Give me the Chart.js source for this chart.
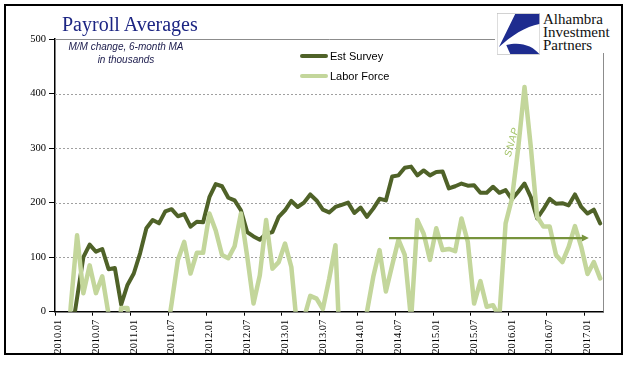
<!DOCTYPE html>
<html><head><meta charset="utf-8">
<script src="https://cdn.jsdelivr.net/npm/chart.js@4.4.1/dist/chart.umd.min.js"></script>
<style>
html,body{margin:0;padding:0;background:#fff;}
#wrap{position:relative;width:641px;height:375px;overflow:hidden;background:#fff;}
#c{position:absolute;left:0;top:0;}
.t{position:absolute;white-space:nowrap;}
#title{left:62px;top:14px;font:20px "Liberation Serif",serif;line-height:20px;color:#1C2583;}
.sub{left:26px;width:200px;text-align:center;font:italic 10px "Liberation Sans",Arial,sans-serif;line-height:14px;color:#202050;}
.leg{font:11px "Liberation Sans",Arial,sans-serif;line-height:14px;color:#000;}
.legline{position:absolute;height:4px;border-radius:2px;width:28px;}
#logo{position:absolute;left:495px;top:7px;width:124px;height:46px;background:#fff;}
#logotext{position:absolute;left:48px;top:6.4px;font:15px "Liberation Serif",serif;line-height:13px;color:#111;}
#icon{position:absolute;left:2px;top:6px;}
</style></head><body>
<div id="wrap">
<canvas id="c" width="641" height="375"></canvas>
<div id="title" class="t">Payroll Averages</div>
<div class="t sub" style="top:40px">M/M change, 6-month MA</div>
<div class="t sub" style="top:53px">in thousands</div>
<div class="legline" style="left:300px;top:54px;background:#4F6228"></div>
<div class="t leg" style="left:330px;top:49px">Est Survey</div>
<div class="legline" style="left:300px;top:74px;background:#C3D69B"></div>
<div class="t leg" style="left:330px;top:69px">Labor Force</div>
<div id="logo">
<svg id="icon" width="43" height="42" viewBox="0 0 130 125">
<rect x="0.5" y="0.5" width="129" height="124" fill="#fff" stroke="#bbb" stroke-width="2"/>
<path d="M55,2 L128,2 L128,32 C88,38 40,70 6,102 Z" fill="#1E2C8F"/>
<path d="M28,96 C70,84 108,98 128,123 L40,123 Z" fill="#1E2C8F"/>
</svg>
<div id="logotext">Alhambra<br>Investment<br>Partners</div>
</div>
</div>
<script>
const months = ['2010.01','2010.02','2010.03','2010.04','2010.05','2010.06','2010.07','2010.08','2010.09','2010.10','2010.11','2010.12',
'2011.01','2011.02','2011.03','2011.04','2011.05','2011.06','2011.07','2011.08','2011.09','2011.10','2011.11','2011.12',
'2012.01','2012.02','2012.03','2012.04','2012.05','2012.06','2012.07','2012.08','2012.09','2012.10','2012.11','2012.12',
'2013.01','2013.02','2013.03','2013.04','2013.05','2013.06','2013.07','2013.08','2013.09','2013.10','2013.11','2013.12',
'2014.01','2014.02','2014.03','2014.04','2014.05','2014.06','2014.07','2014.08','2014.09','2014.10','2014.11','2014.12',
'2015.01','2015.02','2015.03','2015.04','2015.05','2015.06','2015.07','2015.08','2015.09','2015.10','2015.11','2015.12',
'2016.01','2016.02','2016.03','2016.04','2016.05','2016.06','2016.07','2016.08','2016.09','2016.10','2016.11','2016.12',
'2017.01','2017.02','2017.03'];
const estSurvey = [-100,-70,-50,25,100,123,110,115,78,80,13,49,
70,107,153,168,162,184,188,175,179,156,165,164,
210,234,230,209,204,186,146,138,132,143,146,174,
186,203,192,200,215,204,187,182,192,196,200,181,
191,174,189,207,204,248,250,264,266,250,259,250,
256,257,226,230,235,231,232,218,218,229,218,223,
206,220,235,210,171,188,207,198,199,195,215,192,
180,187,162];
const laborForce = [-200,-150,10,140,34,85,34,65,-5,-100,7,7,
-100,-150,-120,-100,-80,-60,15,95,128,70,108,108,
180,149,104,98,120,180,101,15,67,168,79,91,
125,82,-40,-12,29,24,5,60,122,-150,-120,-100,
-80,0,64,113,37,85,132,104,-15,168,143,95,
153,113,115,111,171,128,15,56,9,12,-10,162,
207,300,412,302,174,156,156,104,91,119,157,119,
69,91,61];
const yTicks = [0,100,200,300,400,500];
const xTickEvery = 6;
const arrowLine = {from: 52.5, to: 84.2, value: 135};
const snapNote = {text: 'SNAP', at: 72, value: 311};

const overlay = {
  id: 'overlay',
  beforeDraw(chart) {
    const ctx = chart.ctx;
    ctx.save(); ctx.fillStyle = '#fff'; ctx.fillRect(0, 0, chart.width, chart.height); ctx.restore();
  },
  beforeDatasetsDraw(chart) {
    const {ctx, chartArea: a, scales: {y}} = chart;
    ctx.save();
    ctx.lineWidth = 1;
    ctx.strokeStyle = '#A0A0A0';
    ctx.setLineDash([2, 2]);
    yTicks.forEach(v => {
      if (v === yTicks[0] || v === yTicks[yTicks.length - 1]) return;
      const py = Math.round(y.getPixelForValue(v)) + 0.5;
      ctx.beginPath(); ctx.moveTo(a.left, py); ctx.lineTo(a.right, py); ctx.stroke();
    });
    ctx.setLineDash([]);
    ctx.strokeStyle = '#8C8C8C';
    const top = Math.round(a.top) + 0.5, right = Math.round(a.right) + 0.5;
    ctx.beginPath(); ctx.moveTo(a.left, top); ctx.lineTo(right, top); ctx.lineTo(right, a.bottom); ctx.stroke();
    ctx.restore();
  },
  afterDatasetsDraw(chart) {
    const {ctx, scales: {x, y}} = chart;
    ctx.save();
    const x1 = x.getPixelForValue(arrowLine.from), x2 = x.getPixelForValue(arrowLine.to);
    const py = y.getPixelForValue(arrowLine.value);
    ctx.strokeStyle = '#77933C'; ctx.fillStyle = '#77933C'; ctx.lineWidth = 2.2;
    ctx.beginPath(); ctx.moveTo(x1, py); ctx.lineTo(x2 - 5, py); ctx.stroke();
    ctx.beginPath(); ctx.moveTo(x2, py); ctx.lineTo(x2 - 7, py - 3.5); ctx.lineTo(x2 - 7, py + 3.5); ctx.closePath(); ctx.fill();
    const sx = x.getPixelForValue(snapNote.at), sy = y.getPixelForValue(snapNote.value);
    ctx.translate(sx, sy); ctx.rotate(-74 * Math.PI / 180);
    ctx.font = 'italic 10px "Liberation Sans", Arial, sans-serif';
    ctx.fillStyle = '#A4C46A';
    try { ctx.letterSpacing = '0.8px'; } catch (e) {}
    ctx.textAlign = 'center'; ctx.textBaseline = 'middle';
    ctx.fillText(snapNote.text, 0, 0);
    ctx.restore();
  },
  afterDraw(chart) {
    const ctx = chart.ctx;
    ctx.save(); ctx.strokeStyle = '#000'; ctx.lineWidth = 2;
    ctx.strokeRect(5, 5, 617, 349);
    ctx.restore();
  }
};

new Chart(document.getElementById('c'), {
  type: 'line',
  data: {
    labels: months,
    datasets: [
      {label: 'Est Survey', data: estSurvey, borderColor: '#4F6228', backgroundColor: '#4F6228', borderWidth: 4, pointRadius: 0, tension: 0, clip: 0, borderJoinStyle: 'round', borderCapStyle: 'round', order: 1},
      {label: 'Labor Force', data: laborForce, borderColor: '#C3D69B', backgroundColor: '#C3D69B', borderWidth: 4.5, pointRadius: 0, tension: 0, clip: 0, borderJoinStyle: 'round', borderCapStyle: 'round', order: 0}
    ]
  },
  options: {
    responsive: false, animation: false, events: [],
    layout: {padding: {top: 39, right: 37.7, left: 0, bottom: 0}},
    plugins: {legend: {display: false}, tooltip: {enabled: false}, title: {display: false}},
    scales: {
      x: {
        type: 'category', offset: true,
        afterFit: s => { s.height = 63.3; },
        grid: {offset: true, drawOnChartArea: false, drawTicks: true, tickLength: 4, lineWidth: 1,
               color: c => (c.index % xTickEvery === 0 ? '#000' : 'rgba(0,0,0,0)')},
        border: {display: true, color: '#000', width: 1.5},
        ticks: {autoSkip: false, minRotation: 90, maxRotation: 90, padding: 4, color: '#000',
                font: {family: 'Liberation Serif', size: 10.5},
                callback: (v, i) => (i % xTickEvery === 0 ? months[i] : '')}
      },
      y: {
        min: 0, max: 500,
        afterFit: s => { s.width = 55; },
        afterBuildTicks: s => { s.ticks = yTicks.map(v => ({value: v})); },
        grid: {drawOnChartArea: false, drawTicks: true, tickLength: 6, color: '#000'},
        border: {display: true, color: '#000', width: 1.5},
        ticks: {padding: 3, color: '#000', font: {family: 'Liberation Serif', size: 10.5}}
      }
    }
  },
  plugins: [overlay]
});
</script>
</body></html>
